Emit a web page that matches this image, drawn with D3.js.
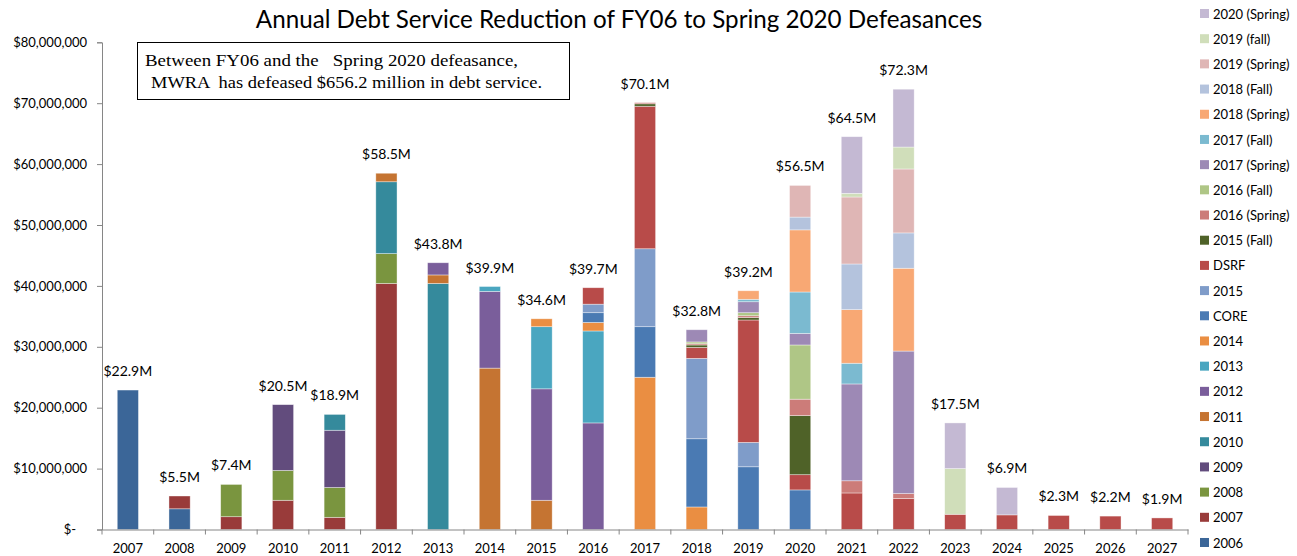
<!DOCTYPE html>
<html>
<head>
<meta charset="utf-8">
<script src="https://cdnjs.cloudflare.com/ajax/libs/d3/7.8.5/d3.min.js"></script>
<style>
  body { margin: 0; background: #fff; }
  text { font-family: Lato, "Open Sans", sans-serif; fill: #000; }
</style>
</head>
<body>
<script>
// years on the x axis
let years = d3.range(2007, 2028).map(String)

// series, bottom of stack first (values in $ millions)
let seriesNames = ['2006', '2007', '2008', '2009', '2010', '2011', '2012', '2013', '2014',
  'CORE', '2015', 'DSRF', '2015 (Fall)', '2016 (Spring)', '2016 (Fall)', '2017 (Spring)',
  '2017 (Fall)', '2018 (Spring)', '2018 (Fall)', '2019 (Spring)', '2019 (fall)', '2020 (Spring)']

let seriesColors = ['#3B6698', '#993B3A', '#7A953F', '#624C7D', '#358A9C', '#C57432', '#7A5E9B',
  '#4AA6C0', '#EA8E42', '#4A7AB3', '#7F9CC9', '#B84B49', '#4F6228', '#CC7C79', '#AFC686',
  '#9D89B5', '#7BBAD0', '#F8A874', '#B4C3DD', '#DFB6B5', '#D0DEBA', '#C4B9D3']

//               07    08   09   10    11   12    13    14    15    16    17    18    19    20   21    22    23   24   25   26   27
let v2006 =     [22.9, 3.4, 0,   0,    0,   0,    0,    0,    0,    0,    0,    0,    0,    0,   0,    0,    0,   0,   0,   0,   0]
let v2007 =     [0,    2.1, 2.1, 4.8,  2.0, 40.4, 0,    0,    0,    0,    0,    0,    0,    0,   0,    0,    0,   0,   0,   0,   0]
let v2008 =     [0,    0,   5.3, 4.9,  4.9, 4.9,  0,    0,    0,    0,    0,    0,    0,    0,   0,    0,    0,   0,   0,   0,   0]
let v2009 =     [0,    0,   0,   10.8, 9.4, 0,    0,    0,    0,    0,    0,    0,    0,    0,   0,    0,    0,   0,   0,   0,   0]
let v2010 =     [0,    0,   0,   0,    2.6, 11.8, 40.4, 0,    0,    0,    0,    0,    0,    0,   0,    0,    0,   0,   0,   0,   0]
let v2011 =     [0,    0,   0,   0,    0,   1.4,  1.4,  26.5, 4.8,  0,    0,    0,    0,    0,   0,    0,    0,   0,   0,   0,   0]
let v2012 =     [0,    0,   0,   0,    0,   0,    2.0,  12.6, 18.3, 17.5, 0,    0,    0,    0,   0,    0,    0,   0,   0,   0,   0]
let v2013 =     [0,    0,   0,   0,    0,   0,    0,    0.8,  10.2, 15.1, 0,    0,    0,    0,   0,    0,    0,   0,   0,   0,   0]
let v2014 =     [0,    0,   0,   0,    0,   0,    0,    0,    1.3,  1.4,  25.0, 3.7,  0,    0,   0,    0,    0,   0,   0,   0,   0]
let vCore =     [0,    0,   0,   0,    0,   0,    0,    0,    0,    1.6,  8.3,  11.2, 10.3, 6.5, 0,    0,    0,   0,   0,   0,   0]
let v2015 =     [0,    0,   0,   0,    0,   0,    0,    0,    0,    1.4,  12.8, 13.2, 4.0,  0,   0,    0,    0,   0,   0,   0,   0]
let vDsrf =     [0,    0,   0,   0,    0,   0,    0,    0,    0,    2.7,  23.4, 1.8,  20.1, 2.5, 6.0,  5.1,  2.5, 2.4, 2.3, 2.2, 1.9]
let v2015Fall = [0,    0,   0,   0,    0,   0,    0,    0,    0,    0,    0.4,  0.4,  0.4,  9.7, 0,    0,    0,   0,   0,   0,   0]
let v2016Spr =  [0,    0,   0,   0,    0,   0,    0,    0,    0,    0,    0.2,  0.2,  0.3,  2.7, 2.0,  0.8,  0,   0,   0,   0,   0]
let v2016Fall = [0,    0,   0,   0,    0,   0,    0,    0,    0,    0,    0,    0.3,  0.5,  8.9, 0,    0,    0,   0,   0,   0,   0]
let v2017Spr =  [0,    0,   0,   0,    0,   0,    0,    0,    0,    0,    0,    2.0,  1.8,  1.9, 15.9, 23.4, 0,   0,   0,   0,   0]
let v2017Fall = [0,    0,   0,   0,    0,   0,    0,    0,    0,    0,    0,    0,    0.4,  6.8, 3.4,  0,    0,   0,   0,   0,   0]
let v2018Spr =  [0,    0,   0,   0,    0,   0,    0,    0,    0,    0,    0,    0,    1.4,  10.2, 8.8, 13.6, 0,   0,   0,   0,   0]
let v2018Fall = [0,    0,   0,   0,    0,   0,    0,    0,    0,    0,    0,    0,    0,    2.1, 7.5,  5.8,  0,   0,   0,   0,   0]
let v2019Spr =  [0,    0,   0,   0,    0,   0,    0,    0,    0,    0,    0,    0,    0,    5.2, 11.0, 10.5, 0,   0,   0,   0,   0]
let v2019Fall = [0,    0,   0,   0,    0,   0,    0,    0,    0,    0,    0,    0,    0,    0,   0.6,  3.6,  7.5, 0,   0,   0,   0]
let v2020Spr =  [0,    0,   0,   0,    0,   0,    0,    0,    0,    0,    0,    0,    0,    0,   9.3,  9.5,  7.5, 4.5, 0,   0,   0]

let seriesValues = [v2006, v2007, v2008, v2009, v2010, v2011, v2012, v2013, v2014, vCore, v2015,
  vDsrf, v2015Fall, v2016Spr, v2016Fall, v2017Spr, v2017Fall, v2018Spr, v2018Fall, v2019Spr,
  v2019Fall, v2020Spr]

// total labels shown above the bars
let totalLabels = ['$22.9M', '$5.5M', '$7.4M', '$20.5M', '$18.9M', '$58.5M', '$43.8M', '$39.9M',
  '$34.6M', '$39.7M', '$70.1M', '$32.8M', '$39.2M', '$56.5M', '$64.5M', '$72.3M', '$17.5M',
  '$6.9M', '$2.3M', '$2.2M', '$1.9M']

let yTicks = [0, 10, 20, 30, 40, 50, 60, 70, 80]

let noteLines = ['Between FY06 and the \u00a0 Spring 2020 defeasance,',
  'MWRA \u00a0has defeased $656.2 million in debt service.']

let title = 'Annual Debt Service Reduction of FY06 to Spring 2020 Defeasances'

//////////////////////////////////////////////////////////////////////////////
let width = 1297
let height = 556
let margin = { left: 102, right: 1188, top: 42.3, bottom: 529.5 }

let svg = d3
  .select('body')
  .append('svg')
  .attr('width', width)
  .attr('height', height)

// build rows for d3.stack
let table = years.map((yr, i) => {
  let row = { year: yr }
  seriesNames.forEach((s, j) => { row[s] = seriesValues[j][i] })
  return row
})
let stacked = d3.stack().keys(seriesNames)(table)

let x = d3
  .scaleBand()
  .domain(years)
  .range([margin.left, margin.right])
  .paddingInner(0.59)
  .paddingOuter(0.295)

let y = d3
  .scaleLinear()
  .domain([0, 80])
  .range([margin.bottom, margin.top])

let color = d3.scaleOrdinal().domain(seriesNames).range(seriesColors)

// bars
svg
  .append('g')
  .selectAll('g')
  .data(stacked)
  .join('g')
  .attr('fill', d => color(d.key))
  .selectAll('rect')
  .data(d => d.filter(p => p[1] - p[0] > 0))
  .join('rect')
  .attr('x', d => x(d.data.year))
  .attr('width', x.bandwidth())
  .attr('y', d => y(d[1]))
  .attr('height', d => y(d[0]) - y(d[1]))
  .attr('stroke', 'rgba(255,255,255,0.55)')
  .attr('stroke-width', 0.7)

// total labels
let totals = years.map((yr, i) => d3.sum(seriesValues, s => s[i]))
svg
  .append('g')
  .selectAll('text')
  .data(years)
  .join('text')
  .attr('x', d => x(d) + x.bandwidth() / 2)
  .attr('y', (d, i) => y(totals[i]) - 14)
  .attr('text-anchor', 'middle')
  .style('font-size', '14px')
  .text((d, i) => totalLabels[i])

// y axis
let yAxis = d3
  .axisLeft(y)
  .tickValues(yTicks)
  .tickSize(5)
  .tickPadding(10)
  .tickFormat(d => d === 0 ? '$-' : '$' + d3.format(',')(d * 1e6))
let gy = svg
  .append('g')
  .attr('transform', `translate(${margin.left},0)`)
  .call(yAxis)
gy.selectAll('text').style('font-size', '13px')
gy.selectAll('text').filter(d => d === 0).attr('x', -26)
gy.selectAll('line, path').attr('stroke', '#868686')

// x axis
let xAxis = d3.axisBottom(x).tickSize(0).tickPadding(14)
let gx = svg
  .append('g')
  .attr('transform', `translate(0,${margin.bottom})`)
  .call(xAxis)
gx.selectAll('text').style('font-size', '13px')
gx.select('.domain').attr('stroke', '#868686')
// tick marks between categories
gx.selectAll('.sep')
  .data(d3.range(years.length + 1))
  .join('line')
  .attr('class', 'sep')
  .attr('x1', i => margin.left + i * x.step())
  .attr('x2', i => margin.left + i * x.step())
  .attr('y1', 0)
  .attr('y2', 5)
  .attr('stroke', '#868686')

// title
svg
  .append('text')
  .attr('x', 619)
  .attr('y', 28)
  .attr('text-anchor', 'middle')
  .style('font-size', '24.2px')
  .text(title)

// note box
svg
  .append('rect')
  .attr('x', 137.5)
  .attr('y', 42.5)
  .attr('width', 432)
  .attr('height', 57)
  .attr('fill', '#fff')
  .attr('stroke', '#000')
  .attr('stroke-width', 1)
let noteX = [145, 151]
let noteW = [373, 391]
svg
  .append('g')
  .selectAll('text')
  .data(noteLines)
  .join('text')
  .attr('x', (d, i) => noteX[i])
  .attr('y', (d, i) => 66 + i * 22)
  .attr('textLength', (d, i) => noteW[i])
  .attr('lengthAdjust', 'spacingAndGlyphs')
  .style('font-family', '"Liberation Serif", "DejaVu Serif", serif')
  .style('font-size', '17.5px')
  .text(d => d)

// legend, top item is the last series
let legendItems = seriesNames.slice().reverse()
let legend = svg
  .append('g')
  .selectAll('g')
  .data(legendItems)
  .join('g')
  .attr('transform', (d, i) => `translate(1200,${14 + i * 25.19})`)
legend
  .append('rect')
  .attr('x', 0)
  .attr('y', -5)
  .attr('width', 9)
  .attr('height', 9)
  .attr('fill', d => color(d))
legend
  .append('text')
  .attr('x', 13)
  .attr('y', 0)
  .attr('dy', '0.35em')
  .style('font-size', '13px')
  .text(d => d)
</script>
</body>
</html>
